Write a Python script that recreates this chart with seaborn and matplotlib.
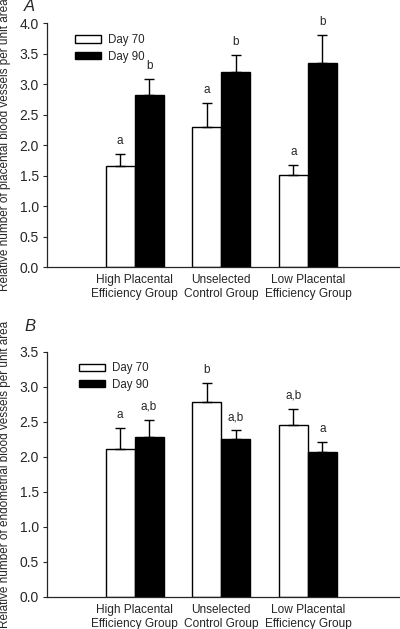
import pandas as pd
import matplotlib
matplotlib.use("Agg")
import matplotlib.pyplot as plt
import seaborn as sns

sns.set_style("ticks")
plt.rcParams['font.family'] = ['Liberation Sans', 'DejaVu Sans']

# Datos
groups = ["High Placental\nEfficiency Group", "Unselected\nControl Group", "Low Placental\nEfficiency Group"]
days = ["Day 70", "Day 90"]

# Panel A: vasos placentarios
placental_d70 = [1.66, 2.29, 1.51]
placental_d90 = [2.82, 3.19, 3.35]
placental_err_d70 = [0.20, 0.40, 0.16]
placental_err_d90 = [0.27, 0.28, 0.45]
placental_let_d70 = ["a", "a", "a"]
placental_let_d90 = ["b", "b", "b"]

# Panel B: vasos endometriales
endo_d70 = [2.12, 2.79, 2.46]
endo_d90 = [2.28, 2.25, 2.07]
endo_err_d70 = [0.29, 0.27, 0.23]
endo_err_d90 = [0.25, 0.13, 0.14]
endo_let_d70 = ["a", "b", "a,b"]
endo_let_d90 = ["a,b", "a,b", "a"]


def build_df(v70, v90):
    rows = []
    for g, a, b in zip(groups, v70, v90):
        rows.append({"Group": g, "Day": days[0], "Value": a})
        rows.append({"Group": g, "Day": days[1], "Value": b})
    return pd.DataFrame(rows)


def draw_panel(ax, df, errs, letters, ylim, ylabel, panel, panel_y, legend_anchor):
    sns.barplot(data=df, x="Group", y="Value", hue="Day", hue_order=days,
                palette={"Day 70": "white", "Day 90": "black"},
                edgecolor="black", linewidth=1.0, width=0.67, ax=ax)
    for cont, err, labs in zip(ax.containers, errs, letters):
        for bar, e, lab in zip(cont, err, labs):
            xc = bar.get_x() + bar.get_width() / 2
            h = bar.get_height()
            ax.errorbar(xc, h, yerr=[[0], [e]], fmt="none", ecolor="black",
                        elinewidth=1.0, capsize=3.5, capthick=1.0)
            ax.annotate(lab, (xc, h + e), xytext=(0, 5), textcoords="offset points",
                        ha="center", va="bottom", fontsize=8.5)
    ax.set_ylim(*ylim)
    ax.set_xlim(-1.01, 3.05)
    ax.set_xlabel("")
    ax.set_ylabel(ylabel, fontsize=8.5)
    ax.yaxis.set_label_coords(-0.103, 0.5)
    ax.tick_params(axis="y", labelsize=10, length=3, width=0.8, pad=3)
    ax.tick_params(axis="x", labelsize=8.6, length=0, pad=5)
    sns.despine(ax=ax)
    ax.spines["left"].set_linewidth(0.9)
    ax.spines["bottom"].set_linewidth(0.9)
    ax.legend(loc="upper left", bbox_to_anchor=legend_anchor, frameon=False,
              fontsize=8.3, handlelength=2.3, handleheight=0.6,
              labelspacing=0.4, borderpad=0, borderaxespad=0, handletextpad=0.6)
    ax.text(-0.033, panel_y, panel, transform=ax.transAxes, fontsize=12,
            fontstyle="italic", ha="right", va="bottom")


fig = plt.figure(figsize=(4.0, 6.29), dpi=100)
ax1 = fig.add_axes([0.1175, 0.5755, 0.88, 0.3879])
ax2 = fig.add_axes([0.1175, 0.0509, 0.88, 0.3895])

draw_panel(ax1, build_df(placental_d70, placental_d90),
           [placental_err_d70, placental_err_d90],
           [placental_let_d70, placental_let_d90],
           (0, 4.0), "Relative number of placental blood vessels per unit area",
           "A", 1.035, (0.079, 0.955))
ax1.set_yticks([0, 0.5, 1.0, 1.5, 2.0, 2.5, 3.0, 3.5, 4.0])
ax1.set_yticklabels([f"{v:.1f}" for v in ax1.get_yticks()])

draw_panel(ax2, build_df(endo_d70, endo_d90),
           [endo_err_d70, endo_err_d90],
           [endo_let_d70, endo_let_d90],
           (0, 3.5), "Relative number of endometrial blood vessels per unit area",
           "B", 1.072, (0.09, 0.958))
ax2.set_yticks([0, 0.5, 1.0, 1.5, 2.0, 2.5, 3.0, 3.5])
ax2.set_yticklabels([f"{v:.1f}" for v in ax2.get_yticks()])

fig.savefig("out.png", dpi=100)
plt.close(fig)
